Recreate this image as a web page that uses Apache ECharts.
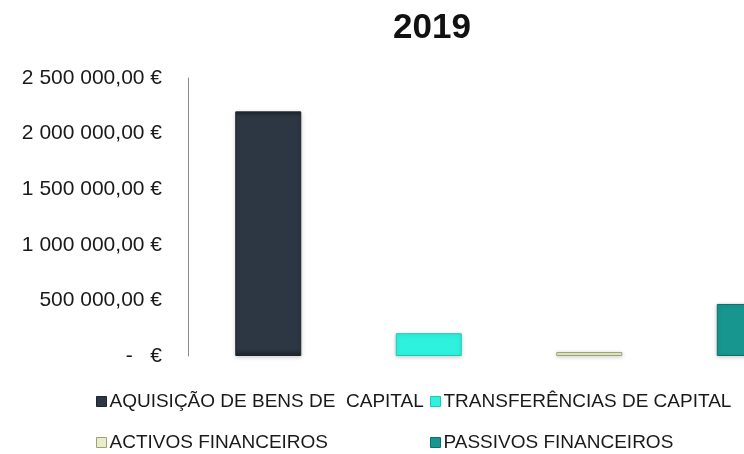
<!DOCTYPE html>
<html>
<head>
<meta charset="utf-8">
<script src="https://cdn.jsdelivr.net/npm/echarts@6/dist/echarts.min.js"></script>
<style>
html,body{margin:0;padding:0;background:#fff;}
#c{width:744px;height:454px;}
</style>
</head>
<body>
<div id="c"></div>
<script>
var title = '2019';
var categories = ['AQUISIÇÃO DE BENS DE  CAPITAL', 'TRANSFERÊNCIAS DE CAPITAL', 'ACTIVOS FINANCEIROS', 'PASSIVOS FINANCEIROS'];
var values = [2200000, 205000, 36000, 468000];
var colors = ['#2c3743', '#2ff2de', '#e9edc9', '#17958f'];
var yTicks = [0, 500000, 1000000, 1500000, 2000000, 2500000];
var yTickLabels = ['-   €', '500 000,00 €', '1 000 000,00 €', '1 500 000,00 €', '2 000 000,00 €', '2 500 000,00 €'];

var FONT = '"Liberation Sans", Arial, sans-serif';
var chart = echarts.init(document.getElementById('c'), null, {renderer: 'canvas'});

var edgeColors = ['#1c242c', '#1cc9b6', '#9ea374', '#0d6f6a'];
// category positions on a numeric x scale (the picture is cropped on the right,
// so the visible part of the axis ends before the fourth slot does)
var series = categories.map(function (name, i) {
  return {
    name: name,
    type: 'bar',
    barWidth: 66,
    barGap: '-100%',
    clip: true,
    data: [[i, values[i]]],
    itemStyle: {
      color: {
        type: 'linear', x: 0, y: 0, x2: 0, y2: 1,
        colorStops: [
          {offset: 0, color: edgeColors[i]},
          {offset: 0.02, color: colors[i]},
          {offset: 0.97, color: colors[i]},
          {offset: 1, color: edgeColors[i]}
        ]
      },
      borderColor: edgeColors[i],
      borderWidth: 1,
      shadowBlur: 4,
      shadowColor: 'rgba(0,0,0,0.18)',
      shadowOffsetY: 1
    }
  };
});

function legendAt(idx, left, top) {
  return {
    data: [{name: categories[idx], icon: 'rect', itemStyle: {color: colors[idx], borderColor: edgeColors[idx], borderWidth: 1}}],
    left: left, top: top, padding: 0,
    itemWidth: 10, itemHeight: 10, itemGap: 0,
    selectedMode: false,
    textStyle: {fontFamily: FONT, fontSize: 19, color: '#1a1a1a', padding: [0, 0, 0, -2]}
  };
}

chart.setOption({
  animation: false,
  backgroundColor: '#ffffff',
  title: {
    text: title, left: 388, top: 6,
    textStyle: {fontFamily: FONT, fontSize: 35, fontWeight: 'bold', color: '#111'}
  },
  legend: [
    legendAt(0, 96, 392),
    legendAt(1, 430, 392),
    legendAt(2, 96, 433),
    legendAt(3, 430, 433)
  ],
  grid: {left: 188, top: 78, right: 0, bottom: 98, containLabel: false},
  xAxis: {
    type: 'value', min: -0.5, max: 2.964,
    axisLine: {show: false}, axisTick: {show: false}, axisLabel: {show: false},
    splitLine: {show: false}
  },
  yAxis: {
    type: 'value', min: 0, max: 2500000, interval: 500000,
    axisLine: {show: true, onZero: false, lineStyle: {color: '#8c8c8c', width: 1}},
    axisTick: {show: false},
    splitLine: {show: false},
    axisLabel: {
      margin: 26,
      fontFamily: FONT, fontSize: 21, color: '#1a1a1a',
      formatter: function (v) {
        var k = yTicks.indexOf(v);
        return k >= 0 ? yTickLabels[k] : '';
      }
    }
  },
  series: series
});
</script>
</body>
</html>
